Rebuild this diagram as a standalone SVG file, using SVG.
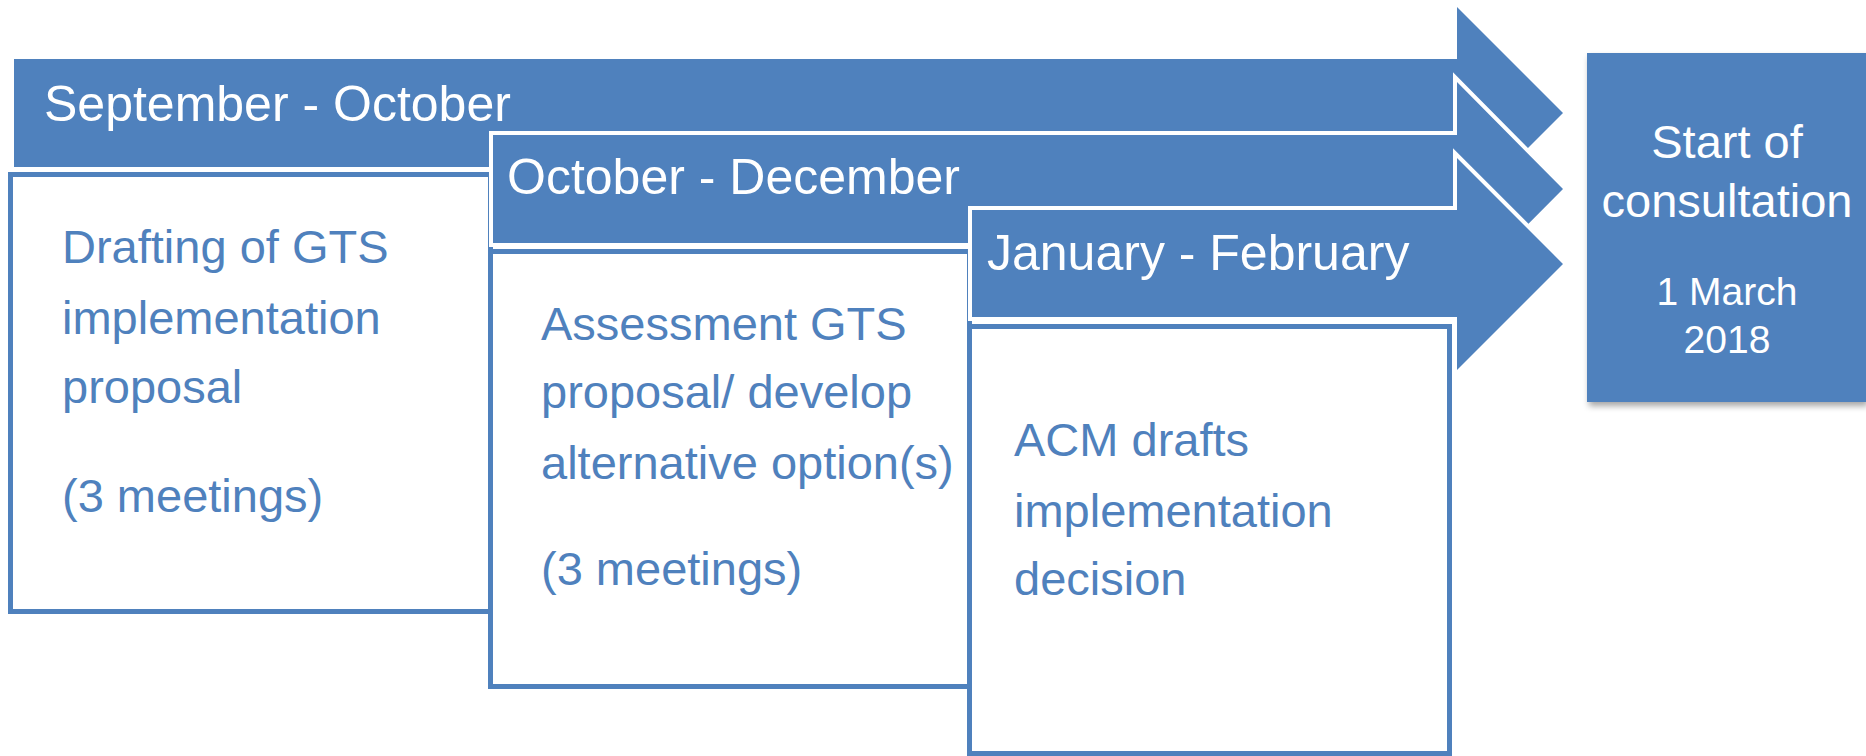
<svg xmlns="http://www.w3.org/2000/svg" width="1866" height="756" viewBox="0 0 1866 756">
  <defs>
    <style>
      .arrow { fill: #4F81BD; stroke: #FFFFFF; stroke-width: 8; paint-order: stroke; stroke-linejoin: miter; }
      .box { fill: #FFFFFF; stroke: #4F81BD; stroke-width: 5; }
      .hdr { font-family: "Liberation Sans", Arial, sans-serif; font-size: 50px; fill: #FFFFFF; }
      .body { font-family: "Liberation Sans", Arial, sans-serif; font-size: 47px; fill: #4F81BD; }
      .end { font-family: "Liberation Sans", Arial, sans-serif; fill: #FFFFFF; text-anchor: middle; }
    </style>
    <filter id="shadow" x="-10%" y="-10%" width="130%" height="130%">
      <feDropShadow dx="2" dy="4" stdDeviation="3" flood-color="#000000" flood-opacity="0.35"/>
    </filter>
  </defs>
  <rect width="1866" height="756" fill="#FFFFFF"/>

  <g id="phase1">
    <path class="arrow" d="M14,59 H1457 V7 L1563,113 L1457,219 V167 H14 Z"/>
    <text class="hdr" x="44" y="121">September - October</text>
    <rect class="box" x="10.5" y="174.5" width="480" height="437"/>
    <text class="body" x="62" y="263">Drafting of GTS</text>
    <text class="body" x="62" y="334">implementation</text>
    <text class="body" x="62" y="403">proposal</text>
    <text class="body" x="62" y="512">(3 meetings)</text>
  </g>

  <g id="phase2">
    <path class="arrow" d="M493,135 H1457 V82 L1563,189 L1457,296 V243 H493 Z"/>
    <text class="hdr" x="507" y="194">October - December</text>
    <rect class="box" x="490.5" y="251.5" width="479" height="435"/>
    <text class="body" x="541" y="340">Assessment GTS</text>
    <text class="body" x="541" y="408">proposal/ develop</text>
    <text class="body" x="541" y="479">alternative option(s)</text>
    <text class="body" x="541" y="585">(3 meetings)</text>
  </g>

  <g id="phase3">
    <path class="arrow" d="M972,210 H1457 V158 L1563,264 L1457,370 V317 H972 Z"/>
    <text class="hdr" x="987" y="270">January - February</text>
    <rect class="box" x="969.5" y="326.5" width="480" height="427"/>
    <text class="body" x="1014" y="456">ACM drafts</text>
    <text class="body" x="1014" y="527">implementation</text>
    <text class="body" x="1014" y="595">decision</text>
  </g>

  <g id="start">
    <rect x="1587" y="53" width="279" height="349" fill="#4F81BD" filter="url(#shadow)"/>
    <text class="end" x="1727" y="158" font-size="47">Start of</text>
    <text class="end" x="1727" y="217" font-size="47">consultation</text>
    <text class="end" x="1727" y="305" font-size="39">1 March</text>
    <text class="end" x="1727" y="353" font-size="39">2018</text>
  </g>

  <g id="connectors"></g>
</svg>
